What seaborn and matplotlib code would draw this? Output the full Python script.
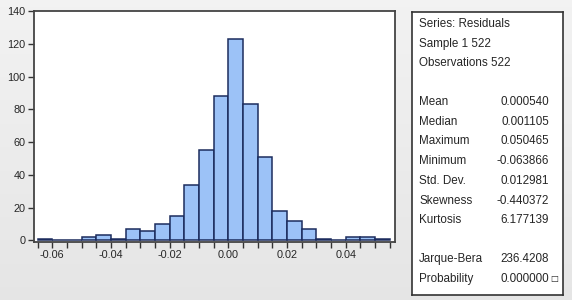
import numpy as np
import pandas as pd
import matplotlib
matplotlib.use('Agg')
import matplotlib.pyplot as plt
import seaborn as sns

# histogram of residuals, bin width 0.005
bin_edges = [-0.065, -0.060, -0.055, -0.050, -0.045, -0.040, -0.035, -0.030,
             -0.025, -0.020, -0.015, -0.010, -0.005, 0.000, 0.005, 0.010,
             0.015, 0.020, 0.025, 0.030, 0.035, 0.040, 0.045, 0.050, 0.055]
counts = [1, 0, 0, 2, 3, 1, 7, 6, 10, 15, 34, 55, 88, 123, 83, 51,
          18, 12, 7, 1, 0, 2, 2, 1]

x_ticks = [-0.06, -0.04, -0.02, 0.00, 0.02, 0.04]
x_tick_labels = ['-0.06', '-0.04', '-0.02', '0.00', '0.02', '0.04']
y_ticks = [0, 20, 40, 60, 80, 100, 120, 140]

stat_header = ['Series: Residuals', 'Sample 1 522', 'Observations 522']
stat_names = ['Mean', 'Median', 'Maximum', 'Minimum', 'Std. Dev.', 'Skewness', 'Kurtosis']
stat_values = ['0.000540', '0.001105', '0.050465', '-0.063866', '0.012981', '-0.440372', '6.177139']
test_names = ['Jarque-Bera', 'Probability']
test_values = ['236.4208', '0.000000']

sns.set_style('white')
plt.rcParams['font.family'] = ['Liberation Sans', 'DejaVu Sans']

fig = plt.figure(figsize=(5.72, 3.0), dpi=100)

# light grey gradient background
bg = fig.add_axes([0, 0, 1, 1], zorder=-10)
grad = np.linspace(0.95, 0.90, 100).reshape(-1, 1)
bg.imshow(np.dstack([grad, grad, grad]), aspect='auto', extent=[0, 1, 0, 1])
bg.set_axis_off()

ax = fig.add_axes([34 / 572, 1 - 242 / 300, (395 - 34) / 572, (242 - 11) / 300])
centers = [(bin_edges[i] + bin_edges[i + 1]) / 2 for i in range(len(counts))]
df = pd.DataFrame({'resid': centers, 'n': counts})
sns.histplot(data=df, x='resid', weights='n', bins=bin_edges, ax=ax,
             color='#9cc2f7', alpha=1.0, edgecolor='#1c2c5e', linewidth=1.1)

ax.set_xlim(-0.0662, 0.0568)
ax.set_ylim(-1, 140)
ax.set_xticks(x_ticks)
ax.set_xticklabels(x_tick_labels)
ax.set_xticks(bin_edges, minor=True)
ax.set_yticks(y_ticks)
ax.set_xlabel('')
ax.set_ylabel('')
ax.tick_params(axis='both', which='major', direction='out', length=4, width=1,
               color='#333333', labelsize=7.8, pad=2, left=True, bottom=True)
ax.tick_params(axis='x', which='minor', direction='out', length=4, width=1,
               color='#333333', bottom=True)
for s in ax.spines.values():
    s.set_color('#444444')
    s.set_linewidth(1.3)
ax.set_facecolor('white')

# statistics box
box = fig.add_axes([412 / 572, 1 - 295 / 300, (563 - 412) / 572, (295 - 12) / 300])
box.set_xlim(0, 151)
box.set_ylim(283, 0)
box.set_xticks([])
box.set_yticks([])
box.set_facecolor('white')
for s in box.spines.values():
    s.set_color('#333333')
    s.set_linewidth(1.2)

fs = 8.4
lx = 7
rx = 137
for i, t in enumerate(stat_header):
    box.text(lx, 12 + i * 19.5, t, fontsize=fs, va='center', ha='left')
for i, (n, v) in enumerate(zip(stat_names, stat_values)):
    y = 90 + i * 19.7
    box.text(lx, y, n, fontsize=fs, va='center', ha='left')
    box.text(rx, y, v, fontsize=fs, va='center', ha='right')
for i, (n, v) in enumerate(zip(test_names, test_values)):
    y = 247 + i * 20
    box.text(lx, y, n, fontsize=fs, va='center', ha='left')
    box.text(rx, y, v, fontsize=fs, va='center', ha='right')
box.text(rx + 1, 267, '\u25a1', fontsize=6, va='center', ha='left', family=['DejaVu Sans'])

fig.savefig('out.png', dpi=100)
